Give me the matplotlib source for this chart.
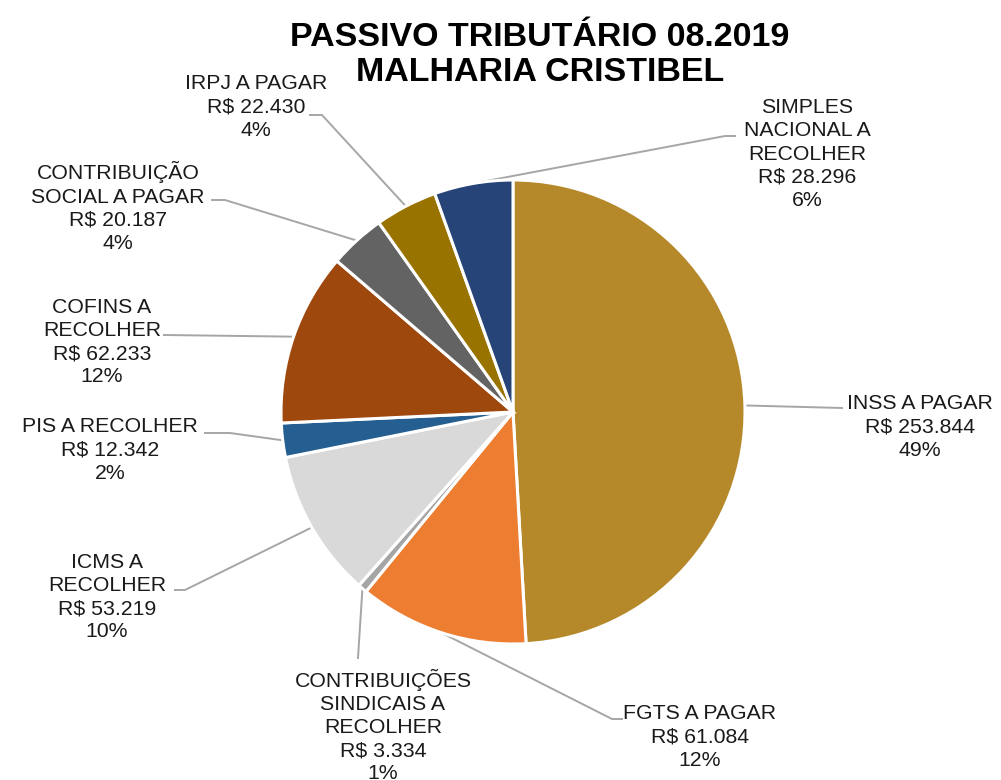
import matplotlib
matplotlib.use("Agg")
import matplotlib.pyplot as plt
import numpy as np

plt.rcParams["font.family"] = ["Liberation Sans", "DejaVu Sans"]

# data
labels = ["INSS A PAGAR", "FGTS A PAGAR", "CONTRIBUIÇÕES\nSINDICAIS A\nRECOLHER",
          "ICMS A\nRECOLHER", "PIS A RECOLHER", "COFINS A\nRECOLHER",
          "CONTRIBUIÇÃO\nSOCIAL A PAGAR", "IRPJ A PAGAR",
          "SIMPLES\nNACIONAL A\nRECOLHER"]
values = [253844, 61084, 3334, 53219, 12342, 62233, 20187, 22430, 28296]
percents = [49, 12, 1, 10, 2, 12, 4, 4, 6]
colors = ["#B5892A", "#ED7D31", "#A5A5A5", "#D9D9D9", "#255E91",
          "#9E480E", "#636363", "#997300", "#264478"]

W, H = 1001, 780
cx, cy, R = 513, H - 412, 232

# label block centers (pixel, y from top) and leader end points
label_pos = [(920, 427), (700, 737), (383, 726), (107, 597), (110, 450),
             (102, 342), (118, 207), (256, 107), (807, 154)]
leader_end = [[(842, 408)], [(612, 719), (622, 719)], [(358, 658)],
              [(185, 590), (175, 590)], [(230, 433), (205, 433)],
              [(164, 335)], [(225, 200), (212, 200)], [(322, 115), (310, 115)],
              [(725, 136), (735, 136)]]

fig = plt.figure(figsize=(W / 100, H / 100), dpi=100)
ax = fig.add_axes([0, 0, 1, 1])

wedges, _ = ax.pie(values, colors=colors, startangle=90, counterclock=False,
                   center=(cx, cy), radius=R, frame=True,
                   wedgeprops=dict(edgecolor="white", linewidth=2.2))
ax.set_xlim(0, W)
ax.set_ylim(0, H)
ax.axis("off")

for w, lab, v, p, (lx, ly), pts in zip(wedges, labels, values, percents,
                                        label_pos, leader_end):
    ang = np.deg2rad((w.theta1 + w.theta2) / 2)
    sx, sy = cx + R * np.cos(ang), cy + R * np.sin(ang)
    xs = [sx] + [q[0] for q in pts]
    ys = [sy] + [H - q[1] for q in pts]
    ax.plot(xs, ys, color="#A6A6A6", lw=1.4, zorder=0)
    txt = f"{lab}\nR$ {v:,}".replace(",", ".") + f"\n{p}%"
    ax.text(lx, H - ly, txt, ha="center", va="center", fontsize=15.3,
            color="#1A1A1A", linespacing=1.27)

ax.text(540, H - 55, "PASSIVO TRIBUTÁRIO 08.2019\nMALHARIA CRISTIBEL",
        ha="center", va="center", fontsize=24.5, fontweight="bold",
        color="black", linespacing=1.15)

fig.savefig("out.png", dpi=100)
